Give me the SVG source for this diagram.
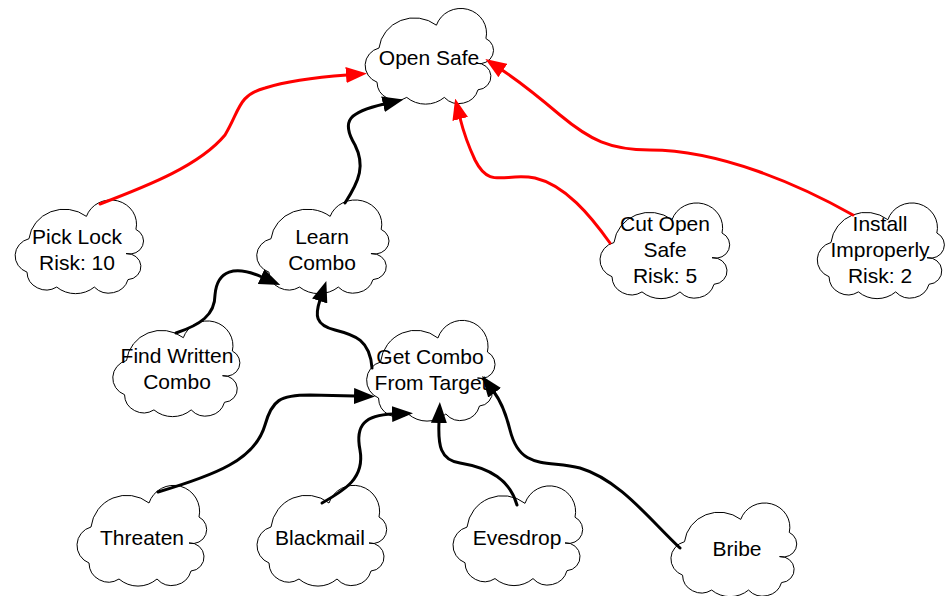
<svg xmlns="http://www.w3.org/2000/svg" xmlns:xlink="http://www.w3.org/1999/xlink" width="946" height="596" viewBox="0 0 946 596">
  <style>
    .cloud { fill: #ffffff; stroke: #000000; stroke-width: 1; }
    .label { font-family: "Liberation Sans", Arial, sans-serif; font-size: 21px; fill: #000000; text-anchor: middle; }
    .edge { fill: none; stroke-width: 3; stroke-linecap: round; }
    .risk { stroke: #ff0000; marker-end: url(#arrowRed); }
    .step { stroke: #000000; marker-end: url(#arrowBlack); }
  </style>
  <defs>
    <!-- cloud outline, 128 x 100, centred on the origin -->
    <path id="cloudShape" vector-effect="non-scaling-stroke"
          d="M-50,-10 A36,36 0 0 1 8,-34 A26,26 0 0 1 58,-20 A14,14 0 0 1 48,6 A14,14 0 0 1 50,34 A20,20 0 0 1 16,42 A29,29 0 0 1 -22,42 A19.5,19.5 0 0 1 -52,26 A19,19 0 0 1 -50,-10 Z"/>
    <marker id="arrowRed" markerUnits="userSpaceOnUse" viewBox="0 -8 21 16" markerWidth="21" markerHeight="16" refX="1" refY="0" orient="auto">
      <path d="M0,-8 L21,0 L0,8 Z" fill="#ff0000"/>
    </marker>
    <marker id="arrowBlack" markerUnits="userSpaceOnUse" viewBox="0 -8 21 16" markerWidth="21" markerHeight="16" refX="1" refY="0" orient="auto">
      <path d="M0,-8 L21,0 L0,8 Z" fill="#000000"/>
    </marker>
  </defs>

  <rect width="946" height="596" fill="#ffffff"/>

  <g id="node-open-safe">
    <use xlink:href="#cloudShape" class="cloud" transform="translate(428.5,57.5) scale(0.99,0.95)"/>
    <text class="label" x="429" y="65">Open Safe</text>
  </g>
  <g id="node-pick-lock">
    <use xlink:href="#cloudShape" class="cloud" transform="translate(78.5,248) scale(0.99,0.93)"/>
    <text class="label" x="77" y="244">Pick Lock</text>
    <text class="label" x="77" y="270">Risk: 10</text>
  </g>
  <g id="node-learn-combo">
    <use xlink:href="#cloudShape" class="cloud" transform="translate(322,248) scale(1.02,0.93)"/>
    <text class="label" x="322" y="244">Learn</text>
    <text class="label" x="322" y="270">Combo</text>
  </g>
  <g id="node-cut-open-safe">
    <use xlink:href="#cloudShape" class="cloud" transform="translate(664,252) scale(1,0.95)"/>
    <text class="label" x="665" y="231">Cut Open</text>
    <text class="label" x="665" y="257">Safe</text>
    <text class="label" x="665" y="283">Risk: 5</text>
  </g>
  <g id="node-install-improperly">
    <use xlink:href="#cloudShape" class="cloud" transform="translate(880,252) scale(0.98,0.95)"/>
    <text class="label" x="880" y="231">Install</text>
    <text class="label" x="880" y="257">Improperly</text>
    <text class="label" x="880" y="283">Risk: 2</text>
  </g>
  <g id="node-find-written-combo">
    <use xlink:href="#cloudShape" class="cloud" transform="translate(175.5,370) scale(0.98,0.95)"/>
    <text class="label" x="177" y="363">Find Written</text>
    <text class="label" x="177" y="389">Combo</text>
  </g>
  <g id="node-get-combo">
    <use xlink:href="#cloudShape" class="cloud" transform="translate(430,372) scale(0.99,1)"/>
    <text class="label" x="430" y="364">Get Combo</text>
    <text class="label" x="431" y="390">From Target</text>
  </g>
  <g id="node-threaten">
    <use xlink:href="#cloudShape" class="cloud" transform="translate(141,537)"/>
    <text class="label" x="142" y="545">Threaten</text>
  </g>
  <g id="node-blackmail">
    <use xlink:href="#cloudShape" class="cloud" transform="translate(321,537)"/>
    <text class="label" x="320" y="545">Blackmail</text>
  </g>
  <g id="node-evesdrop">
    <use xlink:href="#cloudShape" class="cloud" transform="translate(517,537) scale(1,0.99)"/>
    <text class="label" x="517" y="545">Evesdrop</text>
  </g>
  <g id="node-bribe">
    <use xlink:href="#cloudShape" class="cloud" transform="translate(733,551) scale(0.97,0.93)"/>
    <text class="label" x="737" y="556">Bribe</text>
  </g>

  <g id="connectors">
    <!-- risky routes (red) into Open Safe -->
    <path class="edge risk" d="M100,204 C150,185 200,165 225,135 C240,110 238,95 265,88 C290,80 320,77 347,75"/>
    <path class="edge risk" d="M610,243 C590,215 565,185 535,178 C505,172 490,190 475,160 C468,145 463,130 460,118"/>
    <path class="edge risk" d="M853,215 C800,185 720,150 650,150 C610,150 590,140 560,115 C540,98 520,82 502,70"/>
    <!-- attack tree steps (black) -->
    <path class="edge step" d="M345,203 C360,180 365,165 355,145 C340,120 350,112 384,104"/>
    <path class="edge step" d="M176,333 C200,325 215,315 215,295 C217,270 235,265 262,277"/>
    <path class="edge step" d="M372,368 C370,340 355,335 335,330 C315,325 315,315 320,300"/>
    <path class="edge step" d="M158,492 C215,475 255,460 265,425 C272,400 280,395 310,395 L355,396"/>
    <path class="edge step" d="M322,503 C345,490 365,478 360,450 C355,425 365,415 393,414"/>
    <path class="edge step" d="M517,505 C510,480 490,468 460,463 C440,460 438,445 439,422"/>
    <path class="edge step" d="M680,548 C650,520 620,480 580,468 C545,460 520,470 510,430 C505,410 500,400 494,392"/>
  </g>
</svg>
